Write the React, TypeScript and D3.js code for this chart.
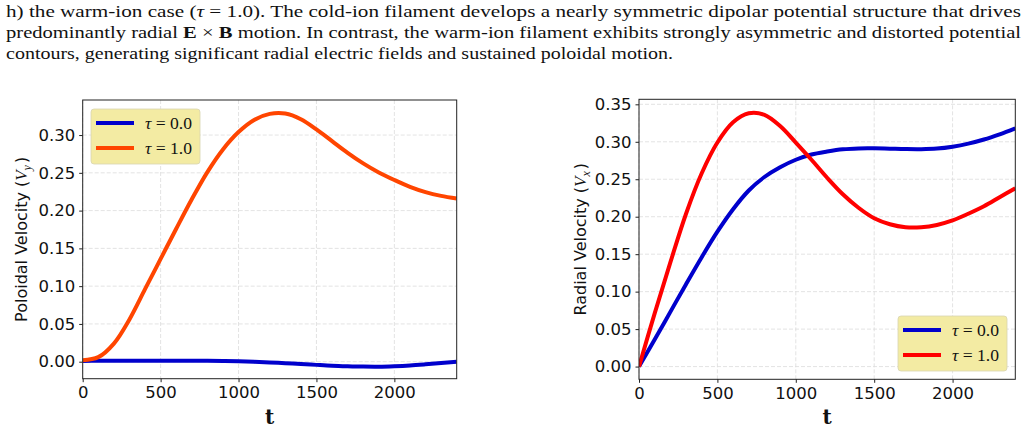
import { useEffect, useRef } from 'react';
import * as d3 from 'd3';

// time samples shared by all curves
const T = [0, 100, 200, 300, 400, 500, 600, 700, 800, 900, 1000, 1100, 1200, 1300, 1400, 1500, 1600, 1700, 1800, 1900, 2000, 2100, 2200, 2300, 2400];

// poloidal velocity V_y
const VY_TAU0 = [0.001, 0.0012, 0.0012, 0.0013, 0.0013, 0.0013, 0.0013, 0.0013, 0.0012, 0.001, 0.0005, -0.0002, -0.001, -0.002, -0.003, -0.0042, -0.0053, -0.006, -0.0065, -0.0066, -0.006, -0.005, -0.0035, -0.0018, 0.0];
const VY_TAU1 = [0.002, 0.006, 0.024, 0.056, 0.096, 0.136, 0.176, 0.215, 0.251, 0.281, 0.304, 0.32, 0.328, 0.3285, 0.321, 0.3075, 0.292, 0.2765, 0.2625, 0.2505, 0.2405, 0.2315, 0.2245, 0.2195, 0.216];

// radial velocity V_x
const VX_TAU0 = [0, 0.036, 0.073, 0.11, 0.146, 0.18, 0.21, 0.235, 0.253, 0.266, 0.276, 0.283, 0.287, 0.29, 0.2912, 0.2913, 0.2908, 0.2903, 0.2902, 0.291, 0.2935, 0.2975, 0.303, 0.31, 0.318];
const VX_TAU1 = [0, 0.071, 0.139, 0.204, 0.258, 0.299, 0.326, 0.338, 0.336, 0.321, 0.299, 0.276, 0.252, 0.23, 0.212, 0.198, 0.19, 0.186, 0.186, 0.189, 0.195, 0.204, 0.214, 0.226, 0.238];

const X_TICKS = [0, 500, 1000, 1500, 2000];
const VY_TICKS = [0, 0.05, 0.1, 0.15, 0.2, 0.25, 0.3];
const VX_TICKS = [0, 0.05, 0.1, 0.15, 0.2, 0.25, 0.3, 0.35];
const LEGEND_LABELS = ['0.0', '1.0'];

interface PanelSpec {
  left: number;
  right: number;
  top: number;
  bottom: number;
  yDomain: [number, number];
  yTicks: number[];
  series: { values: number[]; color: string }[];
  yLabel: string;
  ySub: string;
  yLabelX: number;
  legend: { x: number; y: number };
}

const PANELS: PanelSpec[] = [
  {
    left: 82.7,
    right: 456.7,
    top: 100,
    bottom: 378.7,
    yDomain: [-0.0225, 0.3464],
    yTicks: VY_TICKS,
    series: [
      { values: VY_TAU0, color: '#0000cc' },
      { values: VY_TAU1, color: '#ff4500' },
    ],
    yLabel: 'Poloidal Velocity (',
    ySub: 'y',
    yLabelX: 26.5,
    legend: { x: 91, y: 109 },
  },
  {
    left: 639,
    right: 1015.3,
    top: 99.3,
    bottom: 379.3,
    yDomain: [-0.017, 0.3567],
    yTicks: VX_TICKS,
    series: [
      { values: VX_TAU0, color: '#0000cc' },
      { values: VX_TAU1, color: '#ff0000' },
    ],
    yLabel: 'Radial Velocity (',
    ySub: 'x',
    yLabelX: 586,
    legend: { x: 898, y: 316 },
  },
];

const SANS = '"DejaVu Sans", sans-serif';
const SERIF = '"DejaVu Serif", "Liberation Serif", serif';
const ROMAN = '"Liberation Serif", serif';

function drawPanel(root: d3.Selection<SVGGElement, unknown, null, undefined>, p: PanelSpec) {
  const x = d3.scaleLinear().domain([0, 2400]).range([p.left, p.right]);
  const y = d3.scaleLinear().domain(p.yDomain).range([p.bottom, p.top]);
  const g = root.append('g');

  // dashed grid
  g.append('g')
    .selectAll('line')
    .data(X_TICKS)
    .join('line')
    .attr('x1', (d) => x(d))
    .attr('x2', (d) => x(d))
    .attr('y1', p.top)
    .attr('y2', p.bottom)
    .attr('stroke', '#dcdcdc')
    .attr('stroke-width', 0.8)
    .attr('stroke-dasharray', '4,2');
  g.append('g')
    .selectAll('line')
    .data(p.yTicks)
    .join('line')
    .attr('x1', p.left)
    .attr('x2', p.right)
    .attr('y1', (d) => y(d))
    .attr('y2', (d) => y(d))
    .attr('stroke', '#dcdcdc')
    .attr('stroke-width', 0.8)
    .attr('stroke-dasharray', '4,2');

  // curves
  const clipId = `clip-${p.ySub}`;
  g.append('clipPath')
    .attr('id', clipId)
    .append('rect')
    .attr('x', p.left)
    .attr('y', p.top)
    .attr('width', p.right - p.left)
    .attr('height', p.bottom - p.top);

  for (const s of p.series) {
    const line = d3
      .line<number>()
      .x((_d, i) => x(T[i]))
      .y((d) => y(d))
      .curve(d3.curveCatmullRom.alpha(0.5));
    g.append('path')
      .datum(s.values)
      .attr('clip-path', `url(#${clipId})`)
      .attr('fill', 'none')
      .attr('stroke', s.color)
      .attr('stroke-width', 4)
      .attr('d', line);
  }

  // axes
  const xAxis = g
    .append('g')
    .attr('transform', `translate(0,${p.bottom})`)
    .call(d3.axisBottom(x).tickValues(X_TICKS).tickSize(3.5).tickPadding(4).tickFormat(d3.format('d')));
  xAxis.select('.domain').remove();
  xAxis.selectAll('text').attr('font-family', SANS).attr('font-size', 16.5).attr('fill', '#111');
  xAxis.selectAll('.tick line').attr('stroke', '#222');

  const yAxis = g
    .append('g')
    .attr('transform', `translate(${p.left},0)`)
    .call(d3.axisLeft(y).tickValues(p.yTicks).tickSize(3.5).tickPadding(4).tickFormat(d3.format('.2f')));
  yAxis.select('.domain').remove();
  yAxis.selectAll('text').attr('font-family', SANS).attr('font-size', 16.5).attr('fill', '#111');
  yAxis.selectAll('.tick line').attr('stroke', '#222');

  g.append('rect')
    .attr('x', p.left)
    .attr('y', p.top)
    .attr('width', p.right - p.left)
    .attr('height', p.bottom - p.top)
    .attr('fill', 'none')
    .attr('stroke', '#222')
    .attr('stroke-width', 1);

  // axis titles
  g.append('text')
    .attr('x', (p.left + p.right) / 2)
    .attr('y', 424)
    .attr('text-anchor', 'middle')
    .attr('font-family', SERIF)
    .attr('font-weight', 'bold')
    .attr('font-size', 20)
    .attr('fill', '#111')
    .text('t');

  const yl = g
    .append('text')
    .attr('transform', `translate(${p.yLabelX},${(p.top + p.bottom) / 2}) rotate(-90)`)
    .attr('text-anchor', 'middle')
    .attr('font-family', SANS)
    .attr('font-size', 16)
    .attr('fill', '#111');
  yl.append('tspan').text(p.yLabel);
  yl.append('tspan').attr('font-family', ROMAN).attr('font-style', 'italic').attr('font-size', 17).text('V');
  yl.append('tspan').attr('font-family', ROMAN).attr('font-style', 'italic').attr('font-size', 12).attr('dy', 4).text(p.ySub);
  yl.append('tspan').attr('dy', -4).attr('dx', 2).text(')');

  // legend
  const lg = g.append('g').attr('transform', `translate(${p.legend.x},${p.legend.y})`);
  lg.append('rect')
    .attr('width', 109)
    .attr('height', 55)
    .attr('rx', 3)
    .attr('fill', '#f3eba3')
    .attr('stroke', '#d8d4b0')
    .attr('stroke-width', 0.8);
  p.series.forEach((s, i) => {
    const ly = 14 + i * 25;
    lg.append('line')
      .attr('x1', 5)
      .attr('x2', 43)
      .attr('y1', ly)
      .attr('y2', ly)
      .attr('stroke', s.color)
      .attr('stroke-width', 4);
    const t = lg
      .append('text')
      .attr('x', 54)
      .attr('y', ly + 6)
      .attr('font-family', ROMAN)
      .attr('font-size', 17.5)
      .attr('fill', '#111')
      .attr('textLength', 47)
      .attr('lengthAdjust', 'spacingAndGlyphs');
    t.append('tspan').attr('font-style', 'italic').text('τ');
    t.append('tspan').text(` = ${LEGEND_LABELS[i]}`);
  });
}

export default function App() {
  const gRef = useRef<SVGGElement>(null);

  useEffect(() => {
    if (!gRef.current) return;
    const root = d3.select(gRef.current);
    root.selectAll('*').remove();
    for (const p of PANELS) drawPanel(root, p);
  }, []);

  const cap = { fontFamily: ROMAN, fontSize: 17.5, fill: '#111', lengthAdjust: 'spacingAndGlyphs' };

  return (
    <div style={{ position: 'absolute', left: 0, top: 0 }}>
      <svg width={1027} height={431} style={{ display: 'block', background: '#fff' }}>
        <text x={6} y={17} textLength={1015} {...cap}>
          h) the warm-ion case (<tspan fontStyle="italic">τ</tspan> = 1.0). The cold-ion filament develops a nearly symmetric dipolar potential structure that drives
        </text>
        <text x={6} y={38} textLength={1015} {...cap}>
          predominantly radial <tspan fontWeight="bold">E</tspan> × <tspan fontWeight="bold">B</tspan> motion. In contrast, the warm-ion filament exhibits strongly asymmetric and distorted potential
        </text>
        <text x={6} y={59} textLength={667} {...cap}>
          contours, generating significant radial electric fields and sustained poloidal motion.
        </text>
        <g ref={gRef} />
      </svg>
    </div>
  );
}
